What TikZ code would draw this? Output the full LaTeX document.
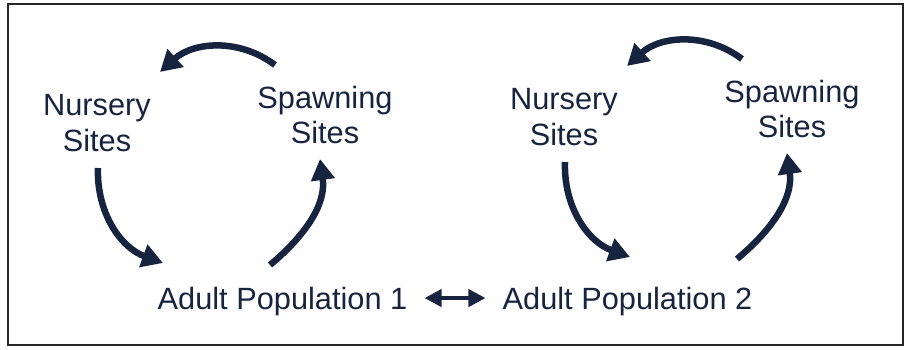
\documentclass[tikz,border=0pt]{standalone}
\usepackage{fontspec}
\setmainfont{Liberation Sans}
\usepackage{tikz}
\usetikzlibrary{arrows.meta}

\definecolor{navy}{HTML}{17243F}
\definecolor{framegray}{HTML}{262626}

\tikzset{
  site/.style={align=center, text=navy, font=\fontsize{17.5}{20}\selectfont},
  cyc/.style={navy, line width=0.13cm, -{Triangle[length=0.42cm,width=0.46cm]}},
  link/.style={navy, line width=0.08cm, shorten <=0.22cm, shorten >=0.22cm,
    {Triangle[length=0.34cm,width=0.34cm]}-{Triangle[length=0.34cm,width=0.34cm]}},
}

\begin{document}
\begin{tikzpicture}
    \useasboundingbox (0,0) rectangle (18.14,6.98);
    % Outer frame
    \draw[framegray, line width=0.04cm] (0.16,0.08) rectangle (18.06,6.9);

    % Adult populations
    \node[site, anchor=base] (adult1) at (5.65,0.8) {Adult Population 1};
    \node[site, anchor=base] (adult2) at (12.55,0.8) {Adult Population 2};
    \draw[link] ([yshift=0.06cm]adult1.east) -- ([yshift=0.06cm]adult2.west);

    % The two life cycles (second one is shifted)
    \foreach \i/\dx/\dy in {1/0/0, 2/9.34/0.12} {
      \begin{scope}[shift={(\dx,\dy)}]
        \node[site] (nur\i) at (1.94,4.52) {Nursery\\Sites};
        \node[site] (spw\i) at (6.5,4.68) {Spawning\\Sites};

        % Arc end points
        \coordinate (top\i) at (5.5,5.68);
        \coordinate (topend\i) at (3.2,5.54);
        \coordinate (lft\i) at (1.96,3.62);
        \coordinate (lftend\i) at (3.26,1.72);
        \coordinate (rgt\i) at (5.4,1.68);
        \coordinate (rgtend\i) at (6.4,3.8);

        % Arrows round the cycle
        \draw[cyc] (top\i) to[out=143, in=42] (topend\i);
        \draw[cyc] (lft\i) to[out=-92, in=160] (lftend\i);
        \draw[cyc] (rgt\i) to[out=40, in=-82] (rgtend\i);
      \end{scope}
    }
\end{tikzpicture}
\end{document}
